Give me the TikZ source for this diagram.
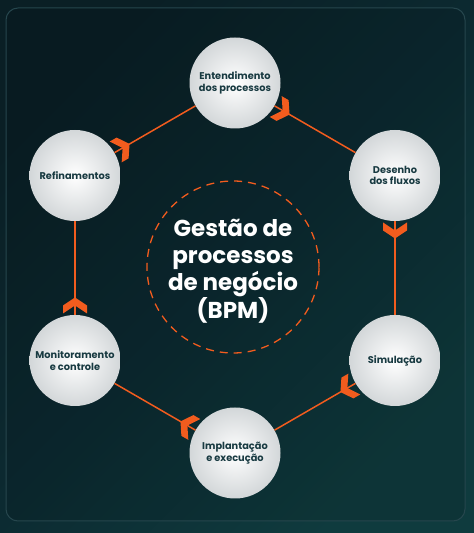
\documentclass[tikz,border=0pt]{standalone}
\usepackage{fontspec}
\setmainfont{Poppins}
\usetikzlibrary{calc}
\definecolor{bgdark}{HTML}{0A1F25}
\definecolor{bgmid}{HTML}{0C2A31}
\definecolor{bglight}{HTML}{0F3B3E}
\definecolor{bpmorange}{HTML}{F25C1E}
\definecolor{txtdark}{HTML}{183A41}
\definecolor{panelline}{HTML}{26464D}
\definecolor{circedge}{HTML}{D3D7D9}
\begin{document}
\begin{tikzpicture}[x=1pt,y=1pt,
  stepcircle/.style={circle, minimum size=91pt, inner sep=0pt, shade, inner color=white, outer color=circedge, align=center, text=txtdark, font=\bfseries\fontsize{9.8}{11.5}\selectfont},
  link/.style={draw=bpmorange, line width=1.5pt},
  chev/.pic={\fill[bpmorange] (0,0) -- (-8,12) -- (-16,12) -- (-8,0) -- (-16,-12) -- (-8,-12) -- cycle;}
]
\shade[top color=bgdark, bottom color=bglight, middle color=bgmid, shading angle=45] (0,0) rectangle (474,533);
\useasboundingbox (0,0) rectangle (474,533);
\draw[panelline, line width=1pt, rounded corners=12pt, fill=black, fill opacity=0.1] (6,12) rectangle (465,525);

\node[stepcircle] (E) at (235,450) {Entendimento\\dos processos};
\node[stepcircle] (D) at (395,357.5) {Desenho\\dos fluxos};
\node[stepcircle] (S) at (395,172.5) {Simulação};
\node[stepcircle] (I) at (235,80) {Implantação\\e execução};
\node[stepcircle] (M) at (75,172.5) {Monitoramento\\e controle};
\node[stepcircle] (R) at (75,357.5) {Refinamentos};

\node[circle, draw=bpmorange, line width=1.3pt, dash pattern=on 8pt off 6pt, minimum size=172pt] (hub) at (233,266) {};
\node[align=center, text=white, font=\bfseries\fontsize{23}{27}\selectfont] (title) at (233,262) {Gestão de\\processos\\de negócio\\(BPM)};

\draw[link] (E) -- (D);
\draw[link] (D) -- (S);
\draw[link] (S) -- (I);
\draw[link] (I) -- (M);
\draw[link] (M) -- (R);
\draw[link] (R) -- (E);

\pic[rotate=-30] at ($(E)!63pt!(D)$) {chev};
\pic[rotate=-90] at ($(D)!63pt!(S)$) {chev};
\pic[rotate=-150] at ($(S)!63pt!(I)$) {chev};
\pic[rotate=150] at ($(I)!63pt!(M)$) {chev};
\pic[rotate=90] at ($(M)!63pt!(R)$) {chev};
\pic[rotate=30] at ($(R)!63pt!(E)$) {chev};
\end{tikzpicture}
\end{document}
